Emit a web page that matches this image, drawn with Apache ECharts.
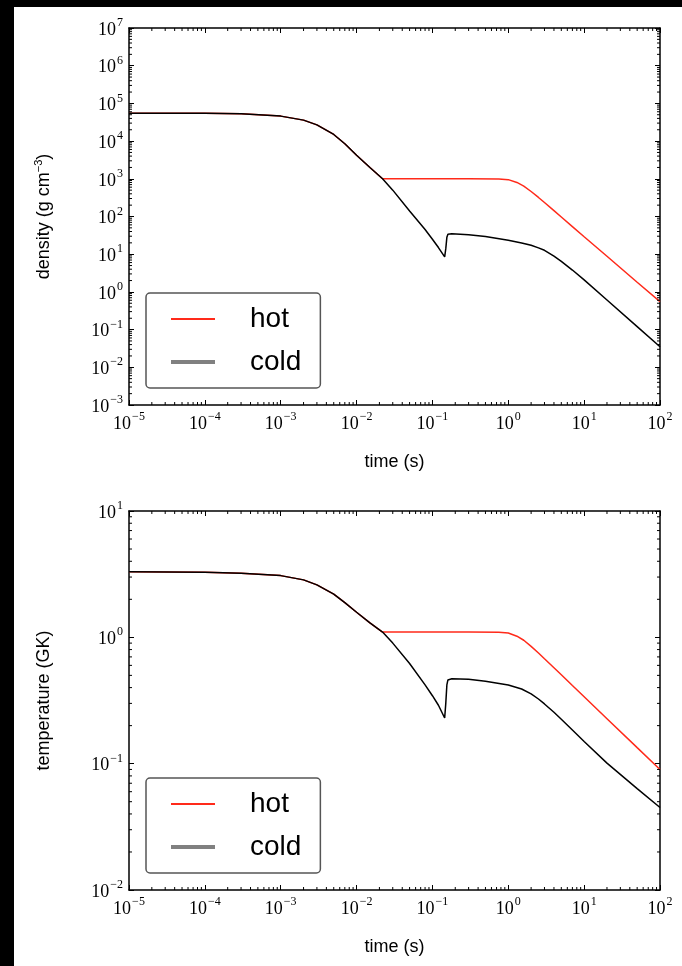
<!DOCTYPE html>
<html>
<head>
<meta charset="utf-8">
<script src="https://cdn.jsdelivr.net/npm/echarts@6/dist/echarts.min.js"></script>
<style>
  html, body { margin: 0; padding: 0; background: #000; }
  #paper { position: absolute; left: 14px; top: 7px; width: 668px; height: 959px; background: #fff; }
  #chart { position: absolute; left: 0; top: 0; width: 682px; height: 966px; }
</style>
</head>
<body>
<div id="paper"></div>
<div id="chart"></div>
<script>
// ---- data ----
const seriesNames = ['hot', 'cold'];
const xTickExponents = [-5, -4, -3, -2, -1, 0, 1, 2];
const densityTickExponents = [-3, -2, -1, 0, 1, 2, 3, 4, 5, 6, 7];
const tempTickExponents = [-2, -1, 0, 1];

// shared early evolution (both models identical)
const sharedTime    = [1e-5, 1e-4, 3e-4, 1e-3, 2e-3, 3e-3, 5e-3, 7e-3, 1e-2, 1.5e-2, 2.2e-2];
const sharedDensity = [5.5e4, 5.45e4, 5.3e4, 4.6e4, 3.6e4, 2.7e4, 1.5e4, 8.5e3, 4.2e3, 2.0e3, 1.0e3];
const sharedTemp    = [3.3, 3.28, 3.22, 3.08, 2.85, 2.6, 2.2, 1.88, 1.58, 1.3, 1.1];

// hot model after split
const hotTime    = [0.3, 0.75, 1, 1.3, 1.6, 2, 2.5, 3, 4, 5, 7, 10, 20, 50, 100];
const hotDensity = [1000, 990, 950, 800, 640, 460, 320, 235, 143, 97, 54, 29, 8.8, 1.8, 0.55];
const hotTemp    = [1.1, 1.096, 1.081, 1.021, 0.948, 0.848, 0.752, 0.677, 0.575, 0.506, 0.416, 0.339, 0.227, 0.134, 0.09];

// cold model after split
const coldTime    = [0.03, 0.05, 0.08, 0.1, 0.12, 0.145, 0.15, 0.155, 0.16, 0.18, 0.3, 0.5, 1, 1.5, 2, 2.5, 3, 4, 5, 7, 10, 20, 50, 100];
const coldDensity = [500, 140, 45, 25, 15, 8.5, 14, 28, 34, 35, 33, 29.5, 23.6, 19.9, 17.2, 14.7, 12.7, 8.9, 6.45, 3.8, 2.08, 0.61, 0.12, 0.035];
const coldTemp    = [0.9, 0.62, 0.42, 0.345, 0.29, 0.23, 0.3, 0.42, 0.46, 0.47, 0.465, 0.45, 0.42, 0.39, 0.357, 0.325, 0.297, 0.255, 0.225, 0.185, 0.15, 0.101, 0.0635, 0.045];

const minorFactors = [2, 3, 4, 5, 6, 7, 8, 9];

// ---- helpers ----
function pairs(ts, vs) { return ts.map((t, i) => [t, vs[i]]); }
function minorValues(exps) {
  const out = [];
  for (let i = 0; i < exps.length - 1; i++) {
    for (const k of minorFactors) out.push(k * Math.pow(10, exps[i]));
  }
  return out;
}
function powLabel(v) {
  const e = Math.round(Math.log10(v));
  return '{b|10}{s|' + (e < 0 ? '\u2212' + (-e) : e) + '}';
}
const labelRich = {
  b: { fontFamily: 'Liberation Serif', fontSize: 18, color: '#000', lineHeight: 22, verticalAlign: 'bottom' },
  s: { fontFamily: 'Liberation Serif', fontSize: 12, color: '#000', lineHeight: 12, verticalAlign: 'top', padding: [0, 0, 0, 1] }
};
const nameStyle = {
  fontFamily: 'Liberation Sans', fontSize: 18, color: '#000', lineHeight: 22,
  rich: { s: { fontFamily: 'Liberation Sans', fontSize: 11, color: '#000', lineHeight: 11, verticalAlign: 'top' } }
};
const lineAxis = { lineStyle: { color: '#000', width: 1.5 } };

function mainX(grid) {
  return {
    gridIndex: grid, type: 'log', logBase: 10,
    min: Math.pow(10, xTickExponents[0]), max: Math.pow(10, xTickExponents[xTickExponents.length - 1]),
    interval: 1,
    name: 'time (s)', nameLocation: 'middle', nameGap: 46, nameTextStyle: nameStyle,
    axisLine: lineAxis, axisTick: { inside: true, length: 5, lineStyle: { color: '#000', width: 1 } },
    axisLabel: { formatter: powLabel, rich: labelRich, margin: 6 },
    splitLine: { show: false }
  };
}
function mirrorX(grid) {
  return {
    gridIndex: grid, type: 'log', logBase: 10, position: 'top',
    min: Math.pow(10, xTickExponents[0]), max: Math.pow(10, xTickExponents[xTickExponents.length - 1]),
    interval: 1,
    axisLine: lineAxis, axisTick: { inside: true, length: 5, lineStyle: { color: '#000', width: 1 } },
    axisLabel: { show: false }, splitLine: { show: false }
  };
}
function mainY(grid, exps, name, gap) {
  return {
    gridIndex: grid, type: 'log', logBase: 10,
    min: Math.pow(10, exps[0]), max: Math.pow(10, exps[exps.length - 1]),
    interval: 1,
    name: name, nameLocation: 'middle', nameGap: gap, nameTextStyle: nameStyle,
    axisLine: lineAxis, axisTick: { inside: true, length: 5, lineStyle: { color: '#000', width: 1 } },
    axisLabel: { formatter: powLabel, rich: labelRich, margin: 6 },
    splitLine: { show: false }
  };
}
function mirrorY(grid, exps) {
  return {
    gridIndex: grid, type: 'log', logBase: 10, position: 'right',
    min: Math.pow(10, exps[0]), max: Math.pow(10, exps[exps.length - 1]),
    interval: 1,
    axisLine: lineAxis, axisTick: { inside: true, length: 5, lineStyle: { color: '#000', width: 1 } },
    axisLabel: { show: false }, splitLine: { show: false }
  };
}

function minorTickSeries(xIdx, yIdx, dim, values, xMin, yMin) {
  return {
    type: 'custom', coordinateSystem: 'cartesian2d', xAxisIndex: xIdx, yAxisIndex: yIdx,
    silent: true, clip: false, z: 5,
    data: values.map(v => dim === 'x' ? [v, yMin] : [xMin, v]),
    encode: { x: 0, y: 1 },
    renderItem: function (params, api) {
      const cs = params.coordSys;
      const len = 3;
      const st = { stroke: '#000', lineWidth: 1 };
      if (dim === 'x') {
        const p = api.coord([api.value(0), yMin])[0];
        return { type: 'group', children: [
          { type: 'line', shape: { x1: p, y1: cs.y + cs.height, x2: p, y2: cs.y + cs.height - len }, style: st },
          { type: 'line', shape: { x1: p, y1: cs.y, x2: p, y2: cs.y + len }, style: st }
        ]};
      } else {
        const p = api.coord([xMin, api.value(1)])[1];
        return { type: 'group', children: [
          { type: 'line', shape: { x1: cs.x, y1: p, x2: cs.x + len, y2: p }, style: st },
          { type: 'line', shape: { x1: cs.x + cs.width, y1: p, x2: cs.x + cs.width - len, y2: p }, style: st }
        ]};
      }
    }
  };
}

function legendAt(top) {
  return {
    orient: 'vertical', left: 146, top: top,
    data: [
      { name: 'hot', lineStyle: { color: '#ff2a1a', width: 2 }, itemStyle: { opacity: 0 } },
      { name: 'cold', lineStyle: { color: '#808080', width: 4 }, itemStyle: { opacity: 0 } }
    ],
    selectedMode: false,
    itemWidth: 44, itemHeight: 30, itemGap: 15,
    padding: [12, 19, 12, 23],
    backgroundColor: '#fff', borderColor: '#555', borderWidth: 1.5, borderRadius: 4,
    formatter: n => '{t|' + n + '}',
    textStyle: { rich: { t: { fontFamily: 'Liberation Sans', fontSize: 28, color: '#000', lineHeight: 33, padding: [0, 0, 0, 30] } } }
  };
}

const xMin = Math.pow(10, xTickExponents[0]);
const dMin = Math.pow(10, densityTickExponents[0]);
const tMin = Math.pow(10, tempTickExponents[0]);

const hotDen = pairs(sharedTime, sharedDensity).concat(pairs(hotTime, hotDensity));
const coldDen = pairs(sharedTime, sharedDensity).concat(pairs(coldTime, coldDensity));
const hotT = pairs(sharedTime, sharedTemp).concat(pairs(hotTime, hotTemp));
const coldT = pairs(sharedTime, sharedTemp).concat(pairs(coldTime, coldTemp));

const lineSeries = (name, xi, yi, data, color) => ({
  type: 'line', name: name, xAxisIndex: xi, yAxisIndex: yi, data: data,
  symbol: 'none', showSymbol: false, smooth: false,
  lineStyle: { color: color, width: 1.5 }, itemStyle: { color: color }, z: 3
});

const option = {
  animation: false,
  grid: [
    { left: 129, right: 22, top: 28, height: 377 },
    { left: 129, right: 22, top: 511, height: 379 }
  ],
  legend: [legendAt(293), legendAt(778)],
  xAxis: [mainX(0), mirrorX(0), mainX(1), mirrorX(1)],
  yAxis: [
    mainY(0, densityTickExponents, 'density (g cm{s|\u22123})', 74),
    mirrorY(0, densityTickExponents),
    mainY(1, tempTickExponents, 'temperature (GK)', 74),
    mirrorY(1, tempTickExponents)
  ],
  series: [
    lineSeries('hot', 0, 0, hotDen, '#ff2a1a'),
    lineSeries('cold', 0, 0, coldDen, '#000'),
    lineSeries('hot', 2, 2, hotT, '#ff2a1a'),
    lineSeries('cold', 2, 2, coldT, '#000'),
    minorTickSeries(0, 0, 'x', minorValues(xTickExponents), xMin, dMin),
    minorTickSeries(0, 0, 'y', minorValues(densityTickExponents), xMin, dMin),
    minorTickSeries(2, 2, 'x', minorValues(xTickExponents), xMin, tMin),
    minorTickSeries(2, 2, 'y', minorValues(tempTickExponents), xMin, tMin)
  ]
};

const chart = echarts.init(document.getElementById('chart'), null, { renderer: 'canvas' });
chart.setOption(option);
</script>
</body>
</html>
